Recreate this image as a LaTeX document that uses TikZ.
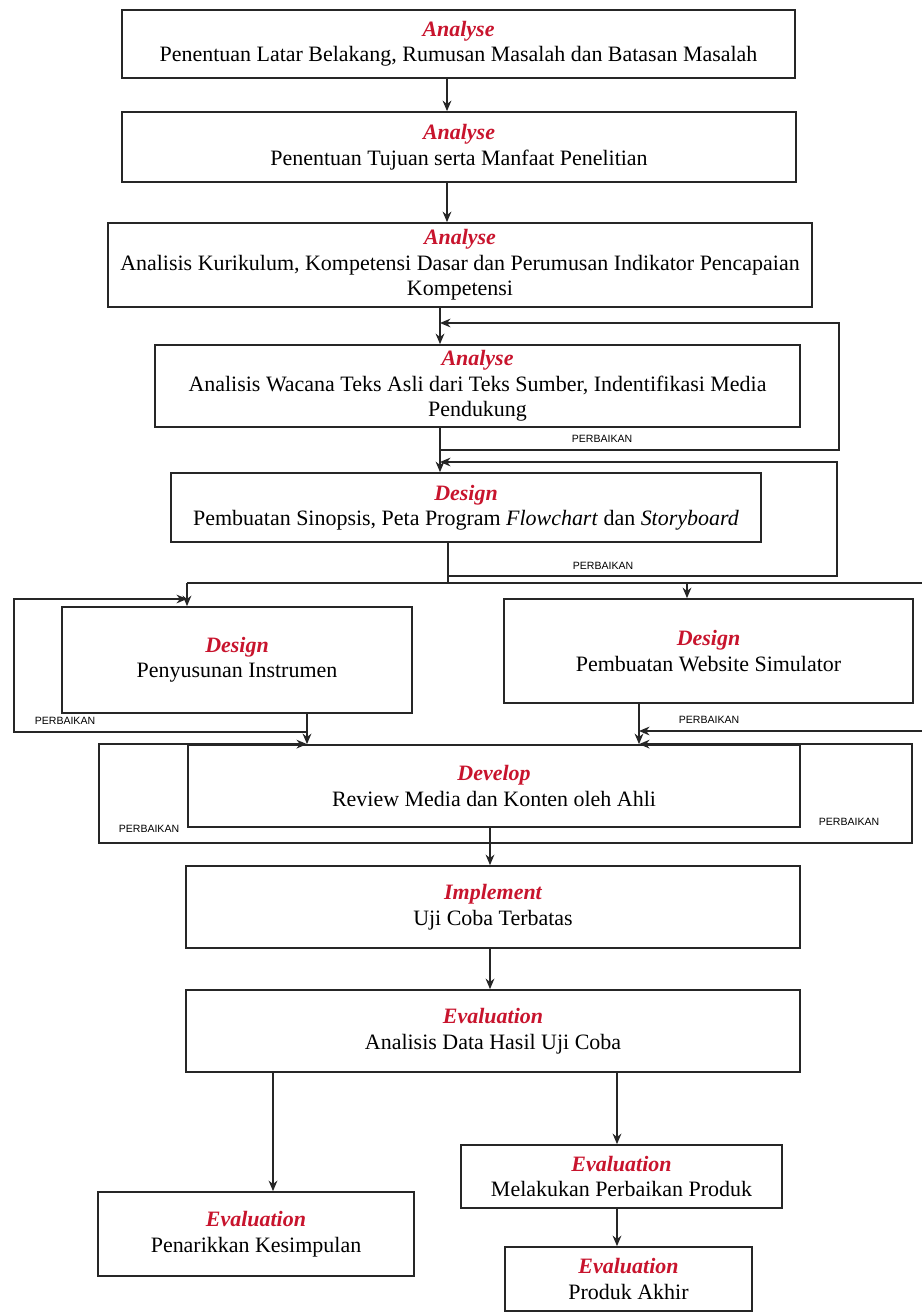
\documentclass[tikz,border=0pt]{standalone}
\usepackage{fontspec}
\setmainfont{Liberation Serif}
\newfontfamily\labelfont{Liberation Sans}
\usetikzlibrary{arrows.meta}
\definecolor{phasered}{RGB}{200,20,45}
\newcommand{\phasetitle}[1]{{\color{phasered}\bfseries\itshape #1}}

\begin{document}
\begin{tikzpicture}[x=0.02cm, y=-0.02cm]

\tikzset{
stage/.style={draw=black!85, line width=1pt, align=center, inner sep=2pt, font=\fontsize{12.5}{14.5}\selectfont},
flow/.style={->,>={Stealth[length=6pt,width=5pt]}, line width=0.8pt, draw=black!85},
link/.style={line width=0.8pt, draw=black!85},
fixlab/.style={font=\labelfont\fontsize{6}{7}\selectfont, inner sep=1pt}
}

\useasboundingbox (0,0) rectangle (922,1314);

% Stages
\node[stage, minimum width=13.46cm, minimum height=1.36cm] (anl1) at (458.5,44) {\phasetitle{Analyse}\\Penentuan Latar Belakang, Rumusan Masalah dan Batasan Masalah};
\node[stage, minimum width=13.48cm, minimum height=1.40cm] (anl2) at (459,147) {\phasetitle{Analyse}\\Penentuan Tujuan serta Manfaat Penelitian};
\node[stage, minimum width=14.08cm, minimum height=1.68cm] (anl3) at (460,265) {\phasetitle{Analyse}\\Analisis Kurikulum, Kompetensi Dasar dan Perumusan Indikator Pencapaian\\Kompetensi};
\node[stage, minimum width=12.90cm, minimum height=1.64cm] (anl4) at (477.5,386) {\phasetitle{Analyse}\\Analisis Wacana Teks Asli dari Teks Sumber, Indentifikasi Media\\Pendukung};
\node[stage, minimum width=11.80cm, minimum height=1.38cm] (dsg1) at (466,507.5) {\phasetitle{Design}\\Pembuatan Sinopsis, Peta Program \textit{Flowchart} dan \textit{Storyboard}};

\node[stage, minimum width=7.00cm, minimum height=2.12cm] (dsg2) at (237,660) {\phasetitle{Design}\\Penyusunan Instrumen};
\node[stage, minimum width=8.18cm, minimum height=2.08cm] (dsg3) at (708.5,651) {\phasetitle{Design}\\Pembuatan Website Simulator};

\node[stage, minimum width=12.24cm, minimum height=1.64cm] (dev) at (494,786) {\phasetitle{Develop}\\Review Media dan Konten oleh Ahli};
\node[stage, minimum width=12.28cm, minimum height=1.64cm] (imp) at (493,907) {\phasetitle{Implement}\\Uji Coba Terbatas};
\node[stage, minimum width=12.28cm, minimum height=1.64cm] (eva1) at (493,1031) {\phasetitle{Evaluation}\\Analisis Data Hasil Uji Coba};

\node[stage, minimum width=6.32cm, minimum height=1.68cm] (eva2) at (256,1234) {\phasetitle{Evaluation}\\Penarikkan Kesimpulan};
\node[stage, minimum width=6.42cm, minimum height=1.26cm] (eva3) at (621.5,1176.5) {\phasetitle{Evaluation}\\Melakukan Perbaikan Produk};
\node[stage, minimum width=4.94cm, minimum height=1.28cm] (eva4) at (628.5,1279) {\phasetitle{Evaluation}\\Produk Akhir};

% Lanes and loop corners
\coordinate (c1) at (447,0);
\coordinate (c3) at (440,0);
\coordinate (c5) at (448,0);
\coordinate (c6) at (307,0);
\coordinate (c7) at (639,0);
\coordinate (c8) at (490,0);
\coordinate (c10L) at (273,0);
\coordinate (c10R) at (617,0);

\coordinate (split) at (448,583);
\coordinate (splitL) at (187,583);
\coordinate (splitR) at (922,583);
\coordinate (splitM) at (687,583);

\coordinate (loop1a) at (839,450);
\coordinate (loop1b) at (440,323);
\coordinate (loop2a) at (837,576);
\coordinate (loop2b) at (440,462);
\coordinate (loop3a) at (14,732);
\coordinate (loop3b) at (187,599);
\coordinate (loop4) at (922,731);
\coordinate (loop5a) at (99,843);
\coordinate (loop6a) at (912,843);

% Arrows
\draw[flow] (anl1.south -| c1) -- (anl2.north -| c1);
\draw[flow] (anl2.south -| c1) -- (anl3.north -| c1);
\draw[flow] (anl3.south -| c3) -- (anl4.north -| c3);
\draw[flow] (anl4.south -| c3) -- (dsg1.north -| c3);
\draw[link] (dsg1.south -| c5) -- (split);

\draw[flow] (anl4.south -| c3) |- (loop1a) |- (loop1b);
\draw[flow] (dsg1.south -| c5) |- (loop2a) |- (loop2b);

\draw[link] (splitL) -- (splitR);
\draw[flow] (splitL) -- (dsg2.north -| splitL);
\draw[flow] (splitM) -- (dsg3.north -| splitM);

\draw[flow] (dsg2.south -| c6) -- (dev.north -| c6);
\draw[flow] (dsg3.south -| c7) -- (dev.north -| c7);
\draw[flow] (dsg2.south -| c6) |- (loop3a) |- (loop3b);
\draw[flow] (loop4) -- (loop4 -| c7);

\draw[flow] (dev.south -| c8) |- (loop5a) |- (dev.north -| c6);
\draw[flow] (dev.south -| c8) |- (loop6a) |- (dev.north -| c7);

\draw[flow] (dev.south -| c8) -- (imp.north -| c8);
\draw[flow] (imp.south -| c8) -- (eva1.north -| c8);
\draw[flow] (eva1.south -| c10L) -- (eva2.north -| c10L);
\draw[flow] (eva1.south -| c10R) -- (eva3.north -| c10R);
\draw[flow] (eva3.south -| c10R) -- (eva4.north -| c10R);

% Labels
\node[fixlab] (fix1) at (602,439) {PERBAIKAN};
\node[fixlab] (fix2) at (603,566) {PERBAIKAN};
\node[fixlab] (fix3) at (65,721) {PERBAIKAN};
\node[fixlab] (fix4) at (709,720) {PERBAIKAN};
\node[fixlab] (fix5) at (149,829) {PERBAIKAN};
\node[fixlab] (fix6) at (849,822) {PERBAIKAN};

\end{tikzpicture}
\end{document}
